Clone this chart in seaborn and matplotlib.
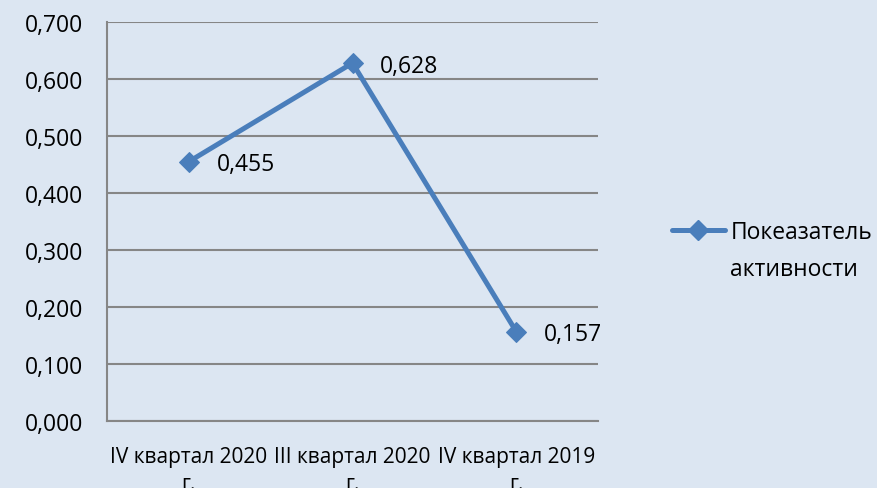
import matplotlib
matplotlib.use("Agg")
import matplotlib.pyplot as plt
import seaborn as sns
import pandas as pd
from matplotlib.lines import Line2D

categories = ["IV квартал 2020\nг.", "III квартал 2020\nг.", "IV квартал 2019\nг."]
values = [0.455, 0.628, 0.157]
labels = ["0,455", "0,628", "0,157"]
yticks = [0.0, 0.1, 0.2, 0.3, 0.4, 0.5, 0.6, 0.7]
legend_lines = ["Покеазатель", "активности"]

bg = "#dce6f2"
line_color = "#4a7ebb"
grid_color = "#868686"
fs = 16.5
fs_x = 15.0

sns.set_theme(style="white")
plt.rcParams["font.family"] = ["Open Sans", "DejaVu Sans"]

fig = plt.figure(figsize=(8.78, 4.89), dpi=100, facecolor=bg)
ax = fig.add_axes([107/878, 1-422/489, (598-107)/878, (422-23)/489])
ax.set_facecolor(bg)

df = pd.DataFrame({"x": range(len(categories)), "y": values})
sns.lineplot(data=df, x="x", y="y", ax=ax, color=line_color, linewidth=3.6,
             marker="D", markersize=10, markeredgecolor=line_color, legend=False)

for i, (v, t) in enumerate(zip(values, labels)):
    ax.annotate(t, (i, v), xytext=(20, -2), textcoords="offset points",
                ha="left", va="center", fontsize=fs, color="black")

ax.set_xlim(-0.5, len(categories) - 0.5)
ax.set_ylim(0, 0.7)
ax.set_yticks(yticks)
ax.set_yticklabels([f"{t:.3f}".replace(".", ",") for t in yticks], fontsize=fs, color="black")
ax.yaxis.grid(True, color=grid_color, linewidth=1.5)
ax.set_axisbelow(True)

ax.set_xticks([i - 0.5 for i in range(len(categories) + 1)])
ax.set_xticklabels([])
ax.set_xticks(range(len(categories)), minor=True)
ax.set_xticklabels(categories, minor=True, fontsize=fs_x, color="black", linespacing=1.35)
ax.tick_params(axis="x", which="minor", length=0, pad=18)
ax.tick_params(axis="x", which="major", length=5, width=1.5, color=grid_color, direction="out")
ax.tick_params(axis="y", length=5, width=1.5, color=grid_color, direction="out", pad=12)
ax.set_xlabel("")
ax.set_ylabel("")

for s in ["top", "right"]:
    ax.spines[s].set_visible(False)
for s in ["left", "bottom"]:
    ax.spines[s].set_color(grid_color)
    ax.spines[s].set_linewidth(1.5)

handle = Line2D([], [], color=line_color, linewidth=3.6, marker="D", markersize=10)
fig.legend([handle], [legend_lines[0]], loc="center left", bbox_to_anchor=(672/878, 1-233/489),
           frameon=False, fontsize=fs, handlelength=2.3, handletextpad=0.25,
           borderpad=0, borderaxespad=0, labelcolor="black")
fig.text(730/878, 1-270/489, legend_lines[1], fontsize=fs, color="black", ha="left", va="center")

fig.savefig("out.png", dpi=100, facecolor=bg)
